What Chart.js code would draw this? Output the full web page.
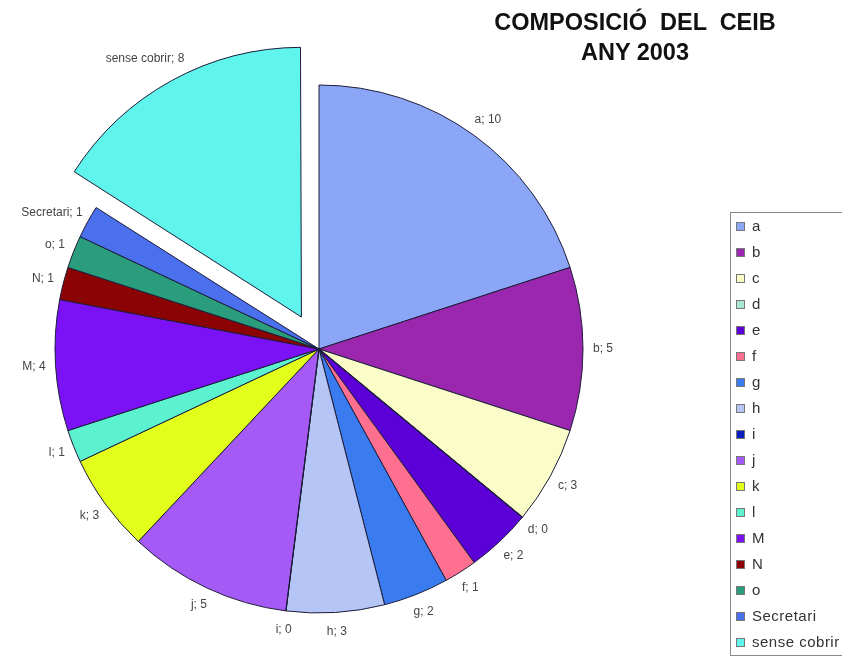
<!DOCTYPE html>
<html>
<head>
<meta charset="utf-8">
<script src="https://cdn.jsdelivr.net/npm/chart.js@4"></script>
<style>
  body { margin: 0; background: #fff; }
  #wrap { position: relative; width: 842px; height: 657px; overflow: hidden; font-family: "Liberation Sans", Arial, sans-serif; }
  #titol { position: absolute; left: 435px; width: 400px; top: 7px; text-align: center; font-weight: bold; font-size: 23.5px; line-height: 30px; color: #111; white-space: pre; }
  #llegenda { position: absolute; left: 730px; top: 212px; width: 130px; height: 442px; border: 1px solid #8a8a8a; }
  .item { position: absolute; left: 21px; font-size: 15px; letter-spacing: 0.5px; color: #333; line-height: 16px; }
  .item span { position: absolute; left: -16px; top: 4px; width: 7px; height: 7px; border: 1px solid #777; }
</style>
</head>
<body>
<div id="wrap">
  <canvas id="grafic" width="842" height="657"></canvas>
  <div id="titol">COMPOSICIÓ  DEL  CEIB
ANY 2003</div>
  <div id="llegenda"></div>
</div>
<script>
const categories = ["a", "b", "c", "d", "e", "f", "g", "h", "i", "j", "k", "l", "M", "N", "o", "Secretari", "sense cobrir"];
const membres = [10, 5, 3, 0, 2, 1, 2, 3, 0, 5, 3, 1, 4, 1, 1, 1, 8];
const colors = ["#8ba6f6", "#9a27ad", "#fbfdc8", "#a8e6d6", "#5b00d6", "#ff6f8f", "#3a7cf0", "#b5c5f5",
  "#0a1fc0", "#a65af5", "#e2ff1c", "#5df2cf", "#7b12f6", "#8c0303", "#2a9d7c", "#4a70ee", "#5ff5ec"];
const destacat = "sense cobrir";

// llegenda en html
const lleg = document.getElementById("llegenda");
categories.forEach((c, i) => {
  const d = document.createElement("div");
  d.className = "item";
  d.style.top = (5 + i * 26) + "px";
  d.innerHTML = `<span style="background:${colors[i]}"></span>${c}`;
  lleg.appendChild(d);
});

// etiquetes "nom; valor" fora del pastis
const etiquetes = {
  id: "etiquetes",
  afterDatasetsDraw(chart) {
    const ctx = chart.ctx;
    const meta = chart.getDatasetMeta(0);
    ctx.save();
    ctx.font = '12px "Liberation Sans", Arial';
    ctx.textAlign = "center";
    ctx.textBaseline = "middle";
    meta.data.forEach((arc, i) => {
      const p = arc.getProps(["x", "y", "startAngle", "endAngle", "outerRadius", "circumference"]);
      const mid = (p.startAngle + p.endAngle) / 2;
      const cos = Math.cos(mid), sin = Math.sin(mid);
      const off = (arc.options.offset || 0) / 4;
      const fix = 1 - Math.sin(Math.min(Math.PI, p.circumference || 0));
      const desp = off + off * fix;
      const cx = p.x + cos * desp, cy = p.y + sin * desp;
      const R = p.outerRadius + off * fix;
      if (p.circumference === 0) {
        // els sectors amb 0 nomes es veuen com una linia
        ctx.strokeStyle = "#1c1c3a";
        ctx.lineWidth = 1.2;
        ctx.beginPath();
        ctx.moveTo(cx, cy);
        ctx.lineTo(cx + cos * R, cy + sin * R);
        ctx.stroke();
      }
      const text = categories[i] + "; " + membres[i];
      const w = ctx.measureText(text).width;
      const tx = cx + cos * (R + 10) + cos * w / 2;
      const ty = cy + sin * (R + 10) + sin * 9;
      ctx.fillStyle = "#444";
      ctx.fillText(text, tx, ty);
    });
    ctx.restore();
  }
};

new Chart(document.getElementById("grafic").getContext("2d"), {
  type: "pie",
  data: {
    labels: categories,
    datasets: [{
      data: membres,
      backgroundColor: colors,
      borderColor: "#1c1c3a",
      borderWidth: 1,
      offset: c => categories[c.dataIndex] === destacat ? 146 : 0
    }]
  },
  options: {
    responsive: false,
    animation: false,
    radius: 264,
    layout: { padding: { left: 0, right: 204, top: 41, bottom: 0 } },
    plugins: {
      legend: { display: false },
      tooltip: { enabled: false },
      title: { display: false }
    }
  },
  plugins: [etiquetes]
});
</script>
</body>
</html>
